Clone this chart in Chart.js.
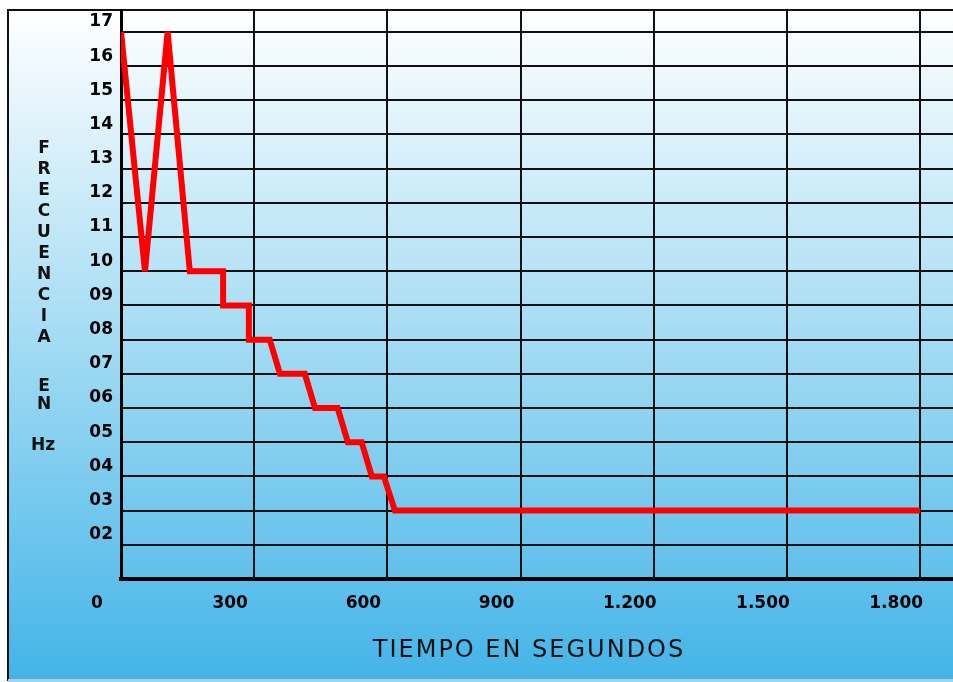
<!DOCTYPE html>
<html>
<head>
<meta charset="utf-8">
<script src="https://cdn.jsdelivr.net/npm/chart.js@4"></script>
<style>
  html, body { margin: 0; padding: 0; background: #fff; }
  #grafica { display: block; }
</style>
</head>
<body>
<canvas id="grafica" width="953" height="682"></canvas>
<script>
// datos
const tiempo = [0, 54, 105, 155, 230, 230, 288, 288, 335, 358, 414, 437, 488, 511, 542, 565, 592, 617, 1800]
const frecuencia = [17, 10, 17, 10, 10, 9, 9, 8, 8, 7, 7, 6, 6, 5, 5, 4, 4, 3, 3]

const ticksX = [0, 300, 600, 900, 1200, 1500, 1800]
const etiquetasX = ['0', '300', '600', '900', '1.200', '1.500', '1.800']
const ticksY = [1, 2, 3, 4, 5, 6, 7, 8, 9, 10, 11, 12, 13, 14, 15, 16, 17]
const etiquetasY = ['', '02', '03', '04', '05', '06', '07', '08', '09', '10', '11', '12', '13', '14', '15', '16', '17']

const tituloY = ['F', 'R', 'E', 'C', 'U', 'E', 'N', 'C', 'I', 'A']
const tituloX = 'TIEMPO EN SEGUNDOS'

const fuente = 'DejaVu Sans, Verdana, sans-serif'

// fondo degradado y marco
const fondo = {
    id: 'fondo',
    beforeDraw(chart) {
        const ctx = chart.ctx
        const w = chart.width, h = chart.height
        ctx.save()
        ctx.fillStyle = '#ffffff'
        ctx.fillRect(0, 0, w, h)
        const g = ctx.createLinearGradient(0, 10, 0, 680)
        g.addColorStop(0, '#ffffff')
        g.addColorStop(0.5, '#a2dbf3')
        g.addColorStop(1, '#43b4e8')
        ctx.fillStyle = g
        ctx.fillRect(8, 10, w - 8, 670)
        ctx.fillStyle = '#111'
        ctx.fillRect(7, 9, 2, 672)
        ctx.fillRect(7, 9, w - 7, 2)
        ctx.fillStyle = '#a9cfe0'
        ctx.fillRect(8, 679, w - 8, 3)
        ctx.restore()
    }
}

// titulos de los ejes
const titulos = {
    id: 'titulos',
    afterDraw(chart) {
        const ctx = chart.ctx
        ctx.save()
        ctx.fillStyle = '#111'
        ctx.textAlign = 'center'
        ctx.textBaseline = 'middle'
        ctx.font = 'bold 17px ' + fuente
        tituloY.forEach((letra, i) => ctx.fillText(letra, 44, 149 + i * 21))
        ctx.fillText('E', 44, 387)
        ctx.fillText('N', 44, 405)
        ctx.fillText('Hz', 43, 446)
        ctx.font = '24px ' + fuente
        ctx.letterSpacing = '2px'
        ctx.fillText(tituloX, 529, 651)
        ctx.restore()
    }
}

new Chart(document.getElementById('grafica'), {
    type: 'line',
    data: {
        datasets: [{
            data: tiempo.map((t, i) => ({ x: t, y: frecuencia[i] })),
            borderColor: '#ff0000',
            borderWidth: 6,
            pointRadius: 0,
            tension: 0,
            fill: false
        }]
    },
    options: {
        responsive: false,
        animation: false,
        devicePixelRatio: 1,
        layout: { padding: { top: 10, left: 0, right: 0, bottom: 0 } },
        plugins: {
            legend: { display: false },
            tooltip: { enabled: false }
        },
        scales: {
            x: {
                type: 'linear',
                min: 0,
                max: 1874,
                afterBuildTicks: s => { s.ticks = ticksX.map(v => ({ value: v })) },
                afterFit: s => {
                    s.height = 103
                    s.paddingLeft = 0
                    s.paddingRight = 0
                },
                ticks: {
                    callback: v => etiquetasX[ticksX.indexOf(v)],
                    color: '#000',
                    font: { family: fuente, size: 17, weight: 'bold' },
                    labelOffset: -24,
                    padding: 14,
                    maxRotation: 0,
                    autoSkip: false
                },
                grid: { color: '#111', lineWidth: 2, drawTicks: false },
                border: { color: '#000', width: 4 }
            },
            y: {
                type: 'linear',
                min: 1,
                max: 17.64,
                afterBuildTicks: s => { s.ticks = ticksY.map(v => ({ value: v })) },
                afterFit: s => {
                    s.width = 121
                    s.paddingTop = 0
                    s.paddingBottom = 0
                },
                ticks: {
                    callback: v => etiquetasY[ticksY.indexOf(v)],
                    color: '#000',
                    font: { family: fuente, size: 17, weight: 'bold' },
                    labelOffset: -10,
                    padding: 8,
                    autoSkip: false
                },
                grid: { color: '#111', lineWidth: 2, drawTicks: false },
                border: { color: '#000', width: 3 }
            }
        }
    },
    plugins: [fondo, titulos]
});
</script>
</body>
</html>
